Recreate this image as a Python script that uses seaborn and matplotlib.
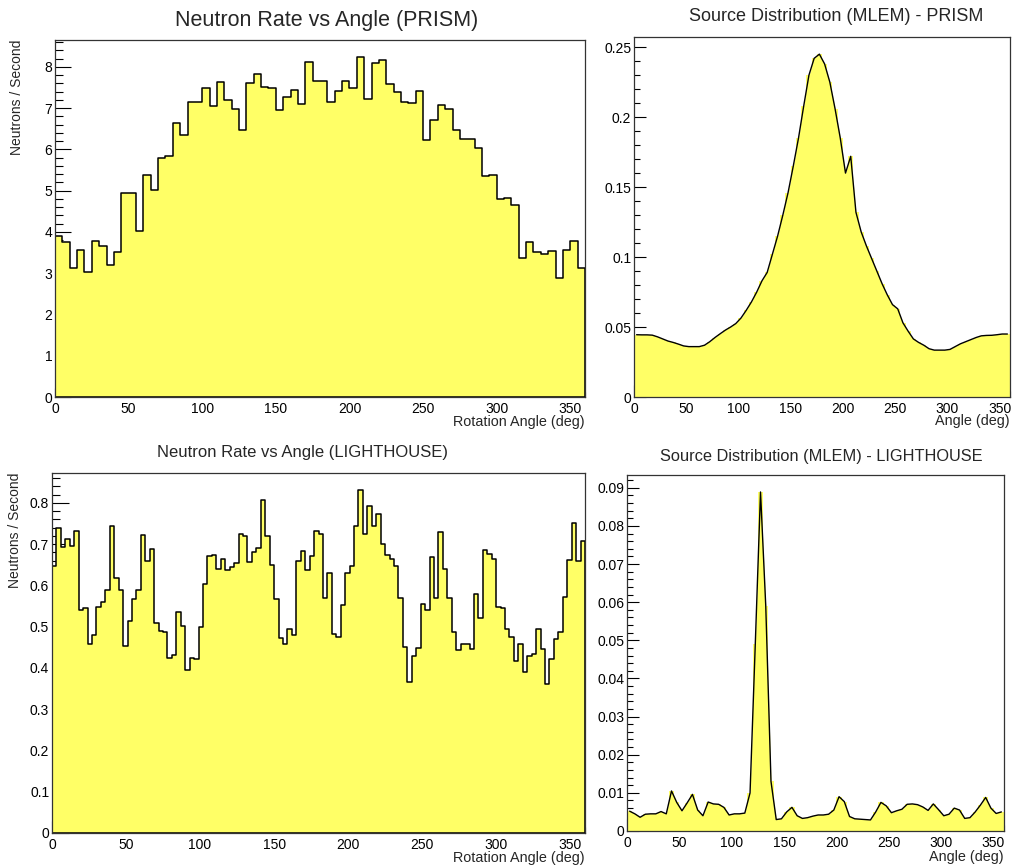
import numpy as np
import pandas as pd
import matplotlib
matplotlib.use("Agg")
import matplotlib.pyplot as plt
import seaborn as sns
from matplotlib.ticker import MultipleLocator, FuncFormatter

# ---------------- data ----------------
prism_rate = [3.90, 3.75, 3.13, 3.56, 3.04, 3.77, 3.67, 3.19, 3.52, 4.95,
              4.95, 4.02, 5.38, 5.01, 5.79, 5.84, 6.65, 6.35, 7.16, 7.16,
              7.50, 7.06, 7.64, 7.20, 6.97, 6.46, 7.60, 7.82, 7.52, 7.50,
              6.95, 7.27, 7.43, 7.09, 8.12, 7.66, 7.66, 7.15, 7.42, 7.66,
              7.50, 8.24, 7.22, 8.10, 8.16, 7.58, 7.39, 7.15, 7.12, 7.42,
              6.24, 6.72, 7.08, 6.99, 6.48, 6.26, 6.26, 6.04, 5.35, 5.38,
              4.79, 4.83, 4.66, 3.38, 3.75, 3.52, 3.47, 3.53, 2.89, 3.57,
              3.77, 3.13]

lighthouse_rate = [0.648, 0.739, 0.694, 0.712, 0.696, 0.733, 0.540, 0.545, 0.457, 0.480,
                   0.548, 0.560, 0.590, 0.744, 0.619, 0.590, 0.453, 0.515, 0.566, 0.590,
                   0.723, 0.660, 0.689, 0.509, 0.490, 0.486, 0.424, 0.431, 0.535, 0.502,
                   0.395, 0.423, 0.421, 0.499, 0.603, 0.671, 0.675, 0.640, 0.664, 0.638,
                   0.644, 0.654, 0.724, 0.721, 0.658, 0.682, 0.690, 0.807, 0.721, 0.650,
                   0.568, 0.473, 0.459, 0.495, 0.479, 0.659, 0.683, 0.638, 0.671, 0.731,
                   0.724, 0.570, 0.631, 0.482, 0.474, 0.552, 0.629, 0.646, 0.745, 0.831,
                   0.724, 0.793, 0.743, 0.773, 0.701, 0.673, 0.665, 0.646, 0.570, 0.452,
                   0.365, 0.429, 0.448, 0.555, 0.540, 0.669, 0.570, 0.730, 0.640, 0.570,
                   0.488, 0.444, 0.457, 0.457, 0.446, 0.580, 0.522, 0.686, 0.676, 0.664,
                   0.548, 0.546, 0.495, 0.474, 0.416, 0.459, 0.390, 0.430, 0.434, 0.495,
                   0.446, 0.362, 0.421, 0.469, 0.488, 0.572, 0.661, 0.751, 0.659, 0.707]

prism_mlem = [0.0445, 0.0444, 0.0444, 0.0442, 0.0430, 0.0415, 0.0400, 0.0390, 0.0378, 0.0365,
              0.0360, 0.0360, 0.0360, 0.0370, 0.0395, 0.0425, 0.0452, 0.0478, 0.0500, 0.0525,
              0.0565, 0.0620, 0.0680, 0.0750, 0.0830, 0.0890, 0.1020, 0.1150, 0.1300, 0.1460,
              0.1650, 0.1850, 0.2080, 0.2300, 0.2420, 0.2450, 0.2380, 0.2250, 0.2060, 0.1850,
              0.1600, 0.1720, 0.1320, 0.1180, 0.1080, 0.0990, 0.0900, 0.0810, 0.0730, 0.0660,
              0.0630, 0.0530, 0.0470, 0.0415, 0.0390, 0.0370, 0.0345, 0.0335, 0.0335, 0.0335,
              0.0340, 0.0360, 0.0380, 0.0395, 0.0410, 0.0425, 0.0437, 0.0440, 0.0441, 0.0445,
              0.0450, 0.0450]

lighthouse_mlem = [0.0052, 0.0045, 0.0036, 0.0044, 0.0045, 0.0045, 0.0051, 0.0045, 0.0105, 0.0075,
                   0.0053, 0.0074, 0.0096, 0.0055, 0.0040, 0.0076, 0.0071, 0.0070, 0.0062, 0.0042,
                   0.0045, 0.0045, 0.0047, 0.0100, 0.0490, 0.0889, 0.0590, 0.0130, 0.0030, 0.0032,
                   0.0050, 0.0062, 0.0040, 0.0033, 0.0035, 0.0039, 0.0042, 0.0042, 0.0044, 0.0055,
                   0.0090, 0.0077, 0.0038, 0.0032, 0.0031, 0.0030, 0.0029, 0.0050, 0.0075, 0.0066,
                   0.0048, 0.0053, 0.0057, 0.0070, 0.0071, 0.0069, 0.0063, 0.0054, 0.0071, 0.0056,
                   0.0040, 0.0044, 0.0060, 0.0055, 0.0033, 0.0035, 0.0050, 0.0068, 0.0088, 0.0060,
                   0.0046, 0.0050]

titles = ["Neutron Rate vs Angle (PRISM)",
          "Source Distribution (MLEM) - PRISM",
          "Neutron Rate vs Angle (LIGHTHOUSE)",
          "Source Distribution (MLEM) - LIGHTHOUSE"]
rate_ylabel = "Neutrons / Second"
rate_xlabel = "Rotation Angle (deg)"
mlem_xlabel = "Angle (deg)"

# ---------------- style ----------------
sns.set_theme(style="white")
plt.rcParams["font.family"] = ["Liberation Sans", "DejaVu Sans"]
plt.rcParams["axes.unicode_minus"] = False

YELLOW = "#ffff66"
W, H = 1013, 867
fig = plt.figure(figsize=(W / 100, H / 100), dpi=100)
fig.patch.set_facecolor("white")


def rect(l, r, t, b):
    return [l / W, 1 - b / H, (r - l) / W, (b - t) / H]


ax_tl = fig.add_axes(rect(55, 585, 40, 397))
ax_tr = fig.add_axes(rect(634, 1010, 37, 397))
ax_bl = fig.add_axes(rect(52, 585, 473, 833))
ax_br = fig.add_axes(rect(627, 1004, 475, 831))


def fmt(v, _):
    return f"{round(v, 6):g}"


def make_df(vals):
    n = len(vals)
    edges = [360.0 * i / n for i in range(n + 1)]
    centers = [0.5 * (edges[i] + edges[i + 1]) for i in range(n)]
    return pd.DataFrame({"angle": centers, "value": vals}), edges


def rate_panel(ax, vals):
    df, edges = make_df(vals)
    sns.histplot(data=df, x="angle", weights="value", bins=edges, element="step",
                 fill=True, color=YELLOW, alpha=1, edgecolor="black", linewidth=1.1,
                 ax=ax)


def mlem_panel(ax, vals):
    df, edges = make_df(vals)
    sns.histplot(data=df, x="angle", weights="value", bins=edges, element="step",
                 fill=True, color=YELLOW, alpha=1, linewidth=0, ax=ax)
    sns.histplot(data=df, x="angle", weights="value", bins=edges, element="poly",
                 fill=True, color=YELLOW, alpha=1, linewidth=0, ax=ax)
    sns.lineplot(data=df, x="angle", y="value", color="black", linewidth=1.0, ax=ax)


rate_panel(ax_tl, prism_rate)
mlem_panel(ax_tr, prism_mlem)
rate_panel(ax_bl, lighthouse_rate)
mlem_panel(ax_br, lighthouse_mlem)

cfg = [
    # ax, vals, ymaj, ymin, ymajlen, xmajlen
    (ax_tl, prism_rate, 1.0, 0.2, 11.5, 6.5),
    (ax_tr, prism_mlem, 0.05, 0.01, 8.5, 8.5),
    (ax_bl, lighthouse_rate, 0.1, 0.02, 12.0, 8.5),
    (ax_br, lighthouse_mlem, 0.01, 0.002, 8.5, 8.5),
]
for ax, vals, ymaj, ymin, ylen, xlen in cfg:
    ax.set_xlim(0, 360)
    ax.set_ylim(0, max(vals) * 1.05)
    ax.xaxis.set_major_locator(MultipleLocator(50))
    ax.xaxis.set_minor_locator(MultipleLocator(10))
    ax.yaxis.set_major_locator(MultipleLocator(ymaj))
    ax.yaxis.set_minor_locator(MultipleLocator(ymin))
    ax.xaxis.set_major_formatter(FuncFormatter(fmt))
    ax.yaxis.set_major_formatter(FuncFormatter(fmt))
    ax.tick_params(axis="both", which="both", direction="in", top=False, right=False,
                   bottom=True, left=True, colors="black", labelsize=10, width=0.8)
    ax.tick_params(axis="y", which="major", length=ylen, pad=2)
    ax.tick_params(axis="y", which="minor", length=ylen / 2)
    ax.tick_params(axis="x", which="major", length=xlen, pad=3.5)
    ax.tick_params(axis="x", which="minor", length=xlen / 2)
    for s in ax.spines.values():
        s.set_visible(True)
        s.set_color("#333333")
        s.set_linewidth(0.9)
    ax.set_facecolor("white")
    ax.set_ylabel("")
    ax.set_xlabel("")

# titles
ax_tl.set_title(titles[0], fontsize=15.5, x=0.512, y=1.056, va="center", pad=0)
ax_tr.set_title(titles[1], fontsize=13, x=0.537, y=1.056, va="center", pad=0)
ax_bl.set_title(titles[2], fontsize=12, x=0.47, y=1.058, va="center", pad=0)
ax_br.set_title(titles[3], fontsize=11.8, x=0.515, y=1.053, va="center", pad=0)

# axis labels
for ax, xl, yl, ycoord, xcoord in [
    (ax_tl, rate_xlabel, rate_ylabel, -0.05, -0.058),
    (ax_bl, rate_xlabel, rate_ylabel, -0.05, -0.056),
    (ax_tr, mlem_xlabel, None, -0.047, None),
    (ax_br, mlem_xlabel, None, -0.053, None),
]:
    ax.set_xlabel(xl, fontsize=10.4, loc="right")
    ax.xaxis.set_label_coords(1.0, ycoord)
    if yl:
        ax.set_ylabel(yl, fontsize=10, loc="top")
        ax.yaxis.set_label_coords(xcoord, 1.0)

fig.savefig("out.png", dpi=100, facecolor="white")
